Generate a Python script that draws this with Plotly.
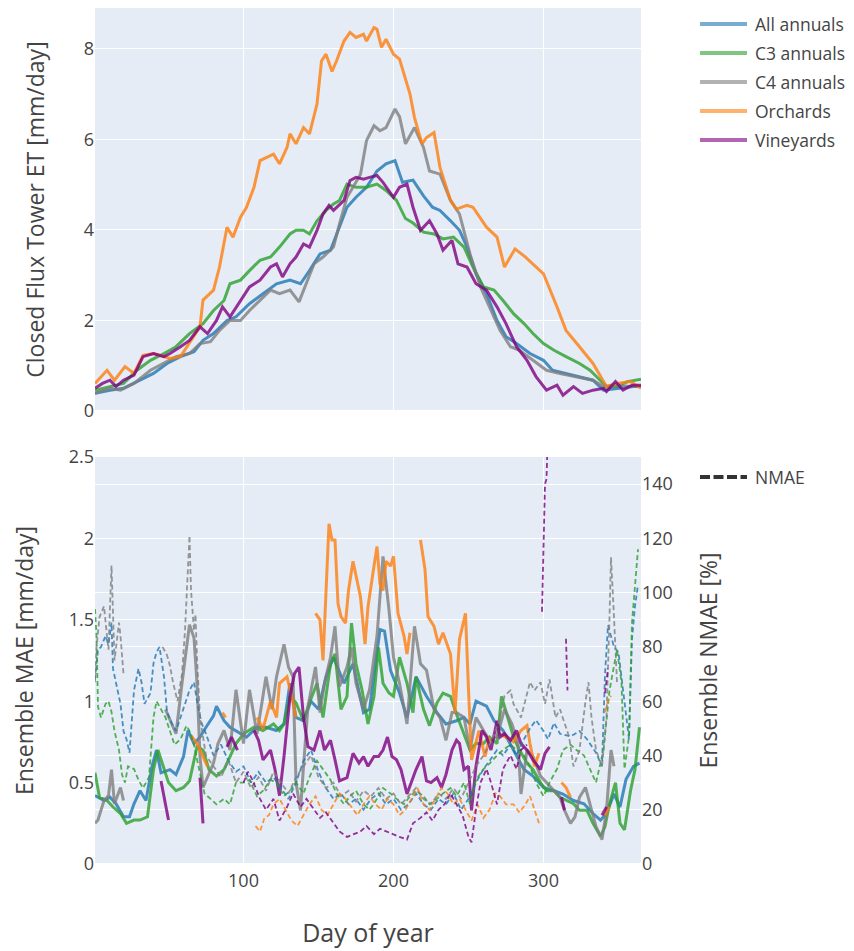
import plotly.graph_objects as go

# ---------------- data (day of year, value) ----------------
SERIES = ["All annuals", "C3 annuals", "C4 annuals", "Orchards", "Vineyards"]
NMAE_LABEL = "NMAE"

# Top panel: closed flux tower ET [mm/day]
ET_ALL = [(1,0.39),(11,0.46),(20,0.5),(31,0.68),(40,0.83),(49,1.05),(58,1.2),(67,1.31),(73,1.56),(80,1.71),
          (89,2.0),(95,2.08),(104,2.37),(113,2.59),(122,2.81),(131,2.89),(138,2.81),(144,3.1),(151,3.47),(158,3.55),
          (162,3.91),(169,4.5),(175,4.72),(182,4.94),(189,5.3),(195,5.46),(201,5.53),(206,5.05),(213,5.1),(220,4.75),
          (226,4.5),(231,4.43),(238,4.2),(244,3.99),(249,3.62),(255,3.03),(262,2.59),(269,2.0),(275,1.64),(282,1.49),
          (291,1.27),(300,1.12),(306,0.9),(315,0.83),(324,0.76),(333,0.68),(340,0.46),(349,0.5),(360,0.54),(365,0.54)]
ET_C3 = [(1,0.46),(11,0.54),(20,0.61),(29,0.9),(38,1.12),(47,1.27),(55,1.42),(64,1.71),(73,1.93),(80,2.22),
         (87,2.44),(91,2.81),(98,2.89),(104,3.1),(111,3.33),(118,3.4),(124,3.62),(131,3.91),(135,3.99),(140,3.99),
         (144,3.91),(149,4.2),(155,4.43),(160,4.57),(164,4.65),(169,5.01),(175,4.94),(182,4.94),(189,5.01),(195,4.87),
         (202,4.65),(208,4.25),(213,4.15),(220,3.95),(227,3.91),(233,3.8),(240,3.84),(247,3.62),(253,3.18),(260,2.74),
         (267,2.67),(273,2.44),(280,2.15),(287,1.93),(293,1.71),(300,1.49),(307,1.34),(315,1.2),(324,1.05),(331,0.9),
         (338,0.68),(342,0.54),(349,0.54),(356,0.65),(365,0.7)]
ET_C4 = [(1,0.39),(11,0.5),(18,0.46),(27,0.61),(38,0.9),(47,1.05),(55,1.2),(64,1.27),(71,1.49),(78,1.53),
         (84,1.78),(91,2.0),(98,2.0),(104,2.22),(111,2.44),(118,2.67),(124,2.59),(131,2.67),(137,2.41),(141,2.74),
         (147,3.25),(153,3.4),(160,3.62),(164,4.13),(169,4.72),(173,4.94),(178,5.23),(182,5.97),(187,6.3),(191,6.19),
         (195,6.26),(201,6.67),(204,6.5),(208,5.9),(214,6.26),(220,5.82),(224,5.3),(231,5.23),(238,4.65),(244,4.35),
         (251,3.47),(258,2.74),(264,2.3),(271,1.78),(278,1.42),(284,1.34),(293,1.12),(302,0.9),(311,0.83),(322,0.76),
         (333,0.68),(340,0.54),(349,0.57),(358,0.54),(365,0.54)]
ET_ORCH = [(1,0.61),(9,0.9),(14,0.68),(21,0.98),(27,0.83),(33,1.23),(40,1.27),(51,1.16),(58,1.2),(67,1.64),
           (71,1.86),(73,2.45),(80,2.67),(84,3.18),(89,4.06),(93,3.84),(98,4.28),(102,4.5),(107,4.94),(111,5.53),
           (115,5.6),(120,5.67),(124,5.46),(129,5.82),(131,6.12),(135,5.9),(140,6.26),(144,6.12),(149,6.78),(152,7.73),
           (155,7.88),(159,7.5),(162,7.73),(167,8.17),(171,8.36),(175,8.25),(180,8.32),(182,8.17),(187,8.47),(189,8.43),
           (192,8.03),(195,8.21),(200,7.88),(204,7.77),(211,7.0),(214,6.48),(219,5.9),(222,6.04),(227,6.15),(231,5.38),
           (238,4.65),(242,4.46),(249,4.54),(253,4.5),(262,4.06),(269,3.84),(274,3.18),(281,3.58),(288,3.4),(295,3.18),
           (300,3.03),(309,2.3),(315,1.78),(324,1.42),(333,1.05),(342,0.54),(349,0.61),(358,0.65),(365,0.5)]
ET_VINE = [(1,0.5),(6,0.61),(11,0.68),(15,0.54),(20,0.68),(27,0.79),(33,1.2),(40,1.27),(47,1.2),(51,1.27),
           (58,1.42),(64,1.56),(71,1.86),(76,1.71),(82,2.0),(86,2.3),(91,2.08),(98,2.44),(104,2.74),(111,2.89),
           (118,3.18),(122,3.25),(126,2.96),(131,3.25),(135,3.4),(140,3.69),(144,3.62),(149,3.99),(153,4.35),(157,4.54),
           (160,4.43),(167,4.65),(171,5.09),(175,5.16),(180,5.12),(184,5.16),(189,5.2),(193,5.05),(200,4.72),(204,4.94),
           (209,5.01),(213,4.5),(218,3.99),(224,4.2),(229,3.91),(233,3.55),(239,3.77),(243,3.25),(249,3.18),(255,2.81),
           (262,2.67),(269,2.3),(275,1.93),(282,1.42),(289,1.12),(295,0.76),(302,0.46),(309,0.57),(313,0.35),(320,0.54),
           (326,0.39),(333,0.46),(340,0.5),(342,0.43),(348,0.65),(353,0.46),(359,0.57),(365,0.57)]

# Bottom panel: ensemble MAE [mm/day]  (None = gap in the record)
MAE_ALL = [(1,0.42),(7,0.39),(11,0.41),(15,0.37),(20,0.29),(24,0.29),(27,0.37),(31,0.45),(35,0.39),(39,0.6),
           (42,0.7),(45,0.56),(51,0.58),(55,0.55),(60,0.66),(63,0.82),(67,0.74),(71,0.78),(75,0.84),(80,0.91),
           (82,0.97),(87,0.88),(91,0.84),(95,0.82),(102,0.78),(109,0.84),(115,0.84),(122,0.82),(127,0.86),(131,1.11),
           (135,0.9),(140,0.88),(145,1.0),(150,0.95),(155,1.15),(160,1.27),(167,1.11),(173,1.23),(180,0.93),(184,0.95),
           (191,1.44),(194,1.43),(198,1.19),(204,1.05),(209,0.9),(215,1.15),(222,1.03),(229,0.93),(235,0.86),(242,0.88),
           (247,0.9),(251,0.86),(255,1.0),(262,0.97),(267,0.88),(273,0.82),(280,0.7),(287,0.58),(293,0.54),(300,0.47),
           (307,0.45),(313,0.43),(320,0.39),(327,0.37),(333,0.31),(338,0.27),(342,0.31),(347,0.43),(351,0.35),(355,0.52),
           (360,0.6),(364,0.62)]
MAE_C3 = [(1,0.56),(4,0.41),(9,0.39),(13,0.35),(18,0.31),(22,0.25),(27,0.27),(31,0.27),(36,0.29),(40,0.58),
          (43,0.7),(46,0.62),(50,0.5),(55,0.45),(60,0.47),(64,0.51),(69,0.72),(73,0.7),(77,0.58),(82,0.54),
          (87,0.58),(91,0.66),(95,0.74),(100,0.8),(107,0.84),(113,0.82),(120,0.86),(124,0.82),(127,0.86),(131,1.03),
          (135,0.99),(140,0.88),(144,0.99),(149,1.11),(153,0.9),(158,1.23),(161,1.29),(165,0.95),(169,1.03),(172,1.48),
          (175,1.23),(179,1.07),(183,0.86),(187,1.03),(190,1.33),(193,1.11),(197,1.05),(200,1.03),(204,1.27),(209,1.11),
          (213,0.93),(215,1.15),(220,0.95),(224,0.85),(229,0.99),(233,1.05),(238,1.03),(242,0.92),(247,0.8),(251,0.7),
          (255,0.74),(260,0.74),(264,0.78),(269,0.74),(272,1.03),(275,0.93),(280,0.78),(284,0.7),(289,0.62),(293,0.58),
          (298,0.5),(302,0.45),(307,0.45),(311,0.41),(315,0.39),(320,0.37),(324,0.33),(329,0.33),(333,0.25),(338,0.17),
          (341,0.23),(344,0.37),(348,0.5),(351,0.25),(354,0.21),(358,0.45),(361,0.58),(364,0.84)]
MAE_C4 = [(1,0.25),(3,0.27),(7,0.39),(10,0.42),(12,0.58),(14,0.37),(18,0.47),(20,0.39),None,
          (48,0.95),(52,0.86),(55,0.8),(59,1.11),(62,1.31),(64,1.47),(67,1.39),(69,1.11),(71,0.66),(73,0.47),
          (80,0.62),(83,0.74),(87,0.82),(91,0.7),(95,1.07),(100,0.74),(104,1.07),(109,0.8),(115,1.15),(119,0.95),
          (122,1.15),(127,1.35),(130,1.21),(133,1.15),(135,0.5),(138,0.33),(140,0.6),(143,0.97),(148,1.21),(151,0.93),
          (154,1.11),(158,1.27),(161,1.46),(164,1.09),(169,1.21),(172,1.33),(175,1.11),(180,0.95),(184,1.07),(189,1.4),
          (193,1.89),(197,1.56),(200,1.27),(204,1.11),(209,0.86),(212,1.23),(214,1.46),(218,1.23),(222,1.19),(227,0.95),
          (231,0.9),(235,0.76),(239,0.93),(242,0.93),(247,0.9),(251,0.7),(255,0.9),(260,0.82),(264,0.76),(269,0.78),
          (274,0.95),(279,0.86),(283,0.74),(285,0.43),(289,0.7),(293,0.66),(298,0.54),(302,0.5),(307,0.45),(311,0.41),
          (314,0.33),(318,0.25),(321,0.29),(324,0.41),(328,0.47),(331,0.37),(335,0.23),(339,0.15),(342,0.33),(345,0.7),
          (347,0.6)]
MAE_ORCH = [(65,0.79),(69,0.74),(73,0.66),(76,0.6),None,(86,0.93),(88,0.9),None,
            (109,0.9),(113,0.83),(118,1.0),(122,0.9),(124,1.11),(129,1.15),(133,0.99),(135,0.9),None,
            (148,1.54),(151,1.5),(153,1.25),(155,1.72),(157,2.09),(159,1.99),(161,1.99),(163,1.6),(165,1.52),(168,1.48),
            (170,1.68),(173,1.86),(175,1.78),(178,1.64),(181,1.35),(183,1.58),(187,1.83),(189,1.95),(191,1.72),(193,1.68),
            (195,1.86),(198,1.83),(200,1.89),(203,1.54),(207,1.4),(209,1.29),(211,1.42),None,
            (218,1.99),(221,1.81),(223,1.52),(227,1.46),(230,1.35),(233,1.42),(238,1.29),(241,0.93),(244,1.38),(248,1.54),
            (250,1.07),(252,0.64),(257,0.82),(259,0.74),(261,0.66),(264,0.78),None,
            (271,0.8),(275,0.78),(280,0.75),(285,0.82),(289,0.85),(291,0.74),(294,0.6),(297,0.68),None,
            (312,0.5),(315,0.47),(318,0.41),None,(341,0.3),(344,0.35)]
MAE_VINE = [(45,0.51),(47,0.41),(50,0.27),None,(71,0.53),(72,0.37),(73,0.25),None,(89,0.72),(92,0.78),(96,0.7),None,
            (107,0.82),(110,0.76),(113,0.64),(118,0.7),(121,0.58),(124,0.42),(127,0.66),(131,1.03),(134,1.17),(137,1.21),
            (140,0.9),(143,0.72),(147,0.7),(151,0.82),(154,0.7),(158,0.76),(161,0.64),(164,0.51),(169,0.53),(173,0.68),
            (177,0.62),(180,0.66),(183,0.6),(187,0.66),(190,0.66),(193,0.7),(196,0.78),(199,0.66),(202,0.64),(205,0.58),
            (209,0.43),(212,0.5),(215,0.58),(219,0.66),(222,0.51),(225,0.5),(229,0.53),(232,0.47),(235,0.55),(239,0.7),
            (242,0.76),(244,0.74),(247,0.58),(250,0.6),(252,0.33),(255,0.6),(259,0.82),(262,0.78),(265,0.7),(269,0.88),
            (271,0.78),(274,0.8),(278,0.76),(282,0.82),(285,0.74),(289,0.7),(293,0.64),(298,0.58),(301,0.68),(304,0.72),None,
            (312,0.41),(314,0.33),None,(339,0.3),(342,0.35)]

# Bottom panel: ensemble NMAE [%] (right axis, dashed)
NMAE_ALL = [(1,68),(3,79),(5,80),(8,84),(10,81),(12,89),(13,72),(16,64),(18,59),(20,49),(22,46),(24,41),(27,64),
            (30,72),(32,67),(34,59),(38,63),(40,74),(42,78),(44,80),(47,69),(49,56),(52,52),(55,49),(58,54),(61,59),
            (64,64),(67,67),(69,60),(72,52),(75,48),(80,40),(85,44),(90,38),(95,34),(100,36),(105,30),(110,34),(115,30),
            (120,32),(125,28),(130,24),(135,30),(140,38),(145,42),(150,34),(155,28),(160,24),(165,26),(170,22),(175,24),
            (180,20),(185,24),(190,26),(195,22),(200,24),(205,20),(210,22),(215,26),(220,22),(225,20),(230,24),(235,22),
            (240,26),(245,20),(250,24),(255,30),(260,35),(264,38),(269,42),(273,40),(278,44),(282,40),(287,46),(291,50),
            (295,53),(300,49),(303,46),(307,52),(311,48),(318,47),(324,49),(329,46),(335,41),(339,36),(341,70),(343,88),
            (347,80),(350,78),(353,64),(357,46),(359,83),(361,95),(363,103)]
NMAE_C3 = [(1,94),(2,84),(3,58),(5,54),(8,59),(10,60),(12,56),(14,49),(17,42),(19,33),(21,30),(23,36),(27,35),
           (30,31),(33,28),(37,32),(40,54),(42,60),(44,58),(48,54),(51,49),(54,44),(58,46),(62,51),(64,49),(67,44),
           (70,36),(74,26),(78,24),(82,22),(87,24),(91,22),(95,30),(100,30),(104,31),(109,25),(113,27),(118,31),(122,30),
           (127,25),(131,27),(135,30),(140,26),(144,32),(149,38),(153,35),(158,31),(162,26),(167,22),(171,25),(175,27),
           (180,22),(184,20),(189,24),(193,28),(198,26),(202,24),(207,22),(211,25),(215,27),(220,25),(224,22),(229,24),
           (233,26),(238,28),(242,25),(247,30),(251,22),(255,31),(260,35),(264,37),(269,40),(273,42),(278,44),(282,42),
           (287,40),(291,36),(295,30),(300,25),(304,30),(309,35),(313,42),(318,44),(322,42),(327,40),(331,35),(335,30),
           (340,42),(344,64),(349,79),(352,67),(354,35),(357,47),(359,89),(361,101),(363,116)]
NMAE_C4 = [(1,67),(2,80),(4,91),(7,95),(9,84),(10,79),(12,110),(13,94),(14,75),(17,89),(18,84),(20,70),None,
           (46,80),(49,77),(51,73),(53,67),(56,60),(59,70),(61,86),(63,106),(64,121),(65,101),(67,86),(68,92),(69,76),
           (71,54),(75,40),(80,36),(85,32),(90,38),(95,30),(100,34),(105,28),(110,32),(115,27),(120,34),(125,30),(130,26),
           (135,32),(140,36),(145,40),(150,32),(155,28),(160,30),(165,25),(170,27),(175,23),(180,27),(185,25),(190,28),
           (195,24),(200,26),(205,22),(210,25),(215,28),(220,24),(225,22),(230,26),(235,24),(240,28),(245,24),(250,30),
           (255,36),(260,40),(265,45),(270,52),(274,62),(278,64),(280,59),(285,54),(289,62),(291,67),(294,64),(298,67),
           (301,59),(304,68),(308,54),(311,57),(314,52),(317,47),(320,36),(324,42),(328,60),(330,67),(332,54),(335,42),
           (339,36),(342,54),(344,91),(345,113),(347,91),(349,67)]
NMAE_ORCH = [(108,14),(111,12),(114,17),(117,18),(120,22),(124,24),(128,20),(132,16),(136,14),(140,18),(144,22),
             (148,25),(152,20),(156,18),(160,22),(164,26),(168,24),(172,21),(176,18),(180,22),(184,25),(188,22),(192,20),
             (196,24),(200,22),(204,18),(208,20),(212,24),(216,28),(220,22),(224,20),(228,24),(232,28),(236,26),(240,22),
             (244,24),(248,20),(252,16),(256,22),(260,17),(264,20),(268,26),(271,25),(275,22),(280,22),(284,19),(288,22),
             (291,25),(294,20),(297,15),None,(341,56),(343,60),(345,62)]
NMAE_VINE = [(100,30),(103,34),(106,31),(111,24),(115,20),(120,24),(124,16),(129,21),(133,26),(138,21),(142,24),
             (147,20),(151,17),(155,19),(160,15),(164,12),(169,10),(173,11),(178,12),(182,14),(187,11),(191,13),(195,12),
             (200,11),(204,10),(209,9),(213,15),(218,17),(222,19),(226,16),(230,20),(234,22),(238,26),(242,22),(246,18),
             (250,10),(252,8),(255,20),(258,30),(262,35),(265,30),(269,22),(273,35),(278,40),(282,35),(285,42),(289,44),None,
             (299,93),(300,120),(301,140),(302,142),(303,160),None,(315,83),(316,64),None,(341,63),(343,72)]

ET = [ET_ALL, ET_C3, ET_C4, ET_ORCH, ET_VINE]
MAE = [MAE_ALL, MAE_C3, MAE_C4, MAE_ORCH, MAE_VINE]
NMAE = [NMAE_ALL, NMAE_C3, NMAE_C4, NMAE_ORCH, NMAE_VINE]

# ---------------- styling / layout ----------------
COLORS = ["#1f77b4", "#2ca02c", "#7f7f7f", "#ff7f0e", "purple"]
FONT = "Open Sans, Verdana, Arial, sans-serif"
W, H = 846, 943
ML, MR, MT, MB = 87, 213, 0, 87
PLOT_W = W - ML - MR
PLOT_H = H - MT - MB


def unzip(pairs):
    xs, ys = [], []
    for p in pairs:
        if p is None:
            xs.append(None)
            ys.append(None)
        else:
            xs.append(p[0])
            ys.append(p[1])
    return xs, ys


def px_to_paper_x(px):
    return (px - ML) / PLOT_W


def px_to_paper_y(py):
    return (H - MB - py) / PLOT_H


fig = go.Figure()

for name, col, data in zip(SERIES, COLORS, ET):
    x, y = unzip(data)
    fig.add_trace(go.Scatter(x=x, y=y, mode="lines", name=name, xaxis="x", yaxis="y",
                             line=dict(color=col, width=3), opacity=0.8))

for name, col, data in zip(SERIES, COLORS, NMAE):
    x, y = unzip(data)
    fig.add_trace(go.Scatter(x=x, y=y, mode="lines", name=name + " NMAE", xaxis="x2", yaxis="y3",
                             line=dict(color=col, width=1.8, dash="5px,3px"), opacity=0.8, connectgaps=False))

for name, col, data in zip(SERIES, COLORS, MAE):
    x, y = unzip(data)
    fig.add_trace(go.Scatter(x=x, y=y, mode="lines", name=name + " MAE", xaxis="x2", yaxis="y2",
                             line=dict(color=col, width=3), opacity=0.8, connectgaps=False))

# ---- legends (drawn as paper-positioned line keys + text labels) ----
KEY_X0, KEY_X1, TEXT_X = 692, 739, 745      # figure pixels
LEG1_Y0, LEG_STEP, LEG2_Y = 16, 29, 469      # figure pixels
LEG_FONT = dict(size=17.5, color="#444")
shapes, annotations = [], []
for i, (name, col) in enumerate(zip(SERIES, COLORS)):
    yy = px_to_paper_y(LEG1_Y0 + i * LEG_STEP)
    shapes.append(dict(type="line", xref="paper", yref="paper", x0=px_to_paper_x(KEY_X0),
                       x1=px_to_paper_x(KEY_X1), y0=yy, y1=yy, opacity=0.6,
                       line=dict(color=col, width=4)))
    annotations.append(dict(xref="paper", yref="paper", x=px_to_paper_x(TEXT_X), y=yy, text=name,
                            showarrow=False, xanchor="left", yanchor="middle", font=LEG_FONT))
yy = px_to_paper_y(LEG2_Y)
shapes.append(dict(type="line", xref="paper", yref="paper", x0=px_to_paper_x(KEY_X0),
                   x1=px_to_paper_x(KEY_X1), y0=yy, y1=yy,
                   line=dict(color="#333333", width=4, dash="10px,3.5px")))
annotations.append(dict(xref="paper", yref="paper", x=px_to_paper_x(TEXT_X), y=yy, text=NMAE_LABEL,
                        showarrow=False, xanchor="left", yanchor="middle", font=LEG_FONT))

TOP_DOMAIN = [px_to_paper_y(403), 1.0]
BOT_DOMAIN = [0.0, px_to_paper_y(449)]
TICKFONT = dict(size=18)

fig.update_layout(
    template="plotly",
    width=W, height=H,
    margin=dict(l=ML, r=MR, t=MT, b=MB),
    showlegend=False,
    font=dict(family=FONT, size=18, color="#444"),
    xaxis=dict(domain=[0, 1], anchor="y", range=[1, 365], tickvals=[100, 200, 300],
               showticklabels=False, matches="x2", automargin=False),
    yaxis=dict(domain=TOP_DOMAIN, anchor="x", range=[0, 8.9], tickvals=[0, 2, 4, 6, 8], tickfont=TICKFONT,
               title=dict(text="Closed Flux Tower ET [mm/day]", font=dict(size=23), standoff=32),
               automargin=False),
    xaxis2=dict(domain=[0, 1], anchor="y2", range=[1, 365], tickvals=[100, 200, 300], tickfont=TICKFONT,
                ticklabelstandoff=4,
                title=dict(text="Day of year", font=dict(size=25), standoff=33), automargin=False),
    yaxis2=dict(domain=BOT_DOMAIN, anchor="x2", range=[0, 2.5], tickvals=[0, 0.5, 1, 1.5, 2, 2.5],
                tickfont=TICKFONT,
                title=dict(text="Ensemble MAE [mm/day]", font=dict(size=23), standoff=31), automargin=False),
    yaxis3=dict(overlaying="y2", anchor="x2", side="right", range=[0, 150],
                tickvals=[0, 20, 40, 60, 80, 100, 120, 140], tickfont=TICKFONT,
                title=dict(text="Ensemble NMAE [%]", font=dict(size=23), standoff=29), automargin=False),
    shapes=shapes,
    annotations=annotations,
)

fig.write_html("out.html", config={"displayModeBar": False})
